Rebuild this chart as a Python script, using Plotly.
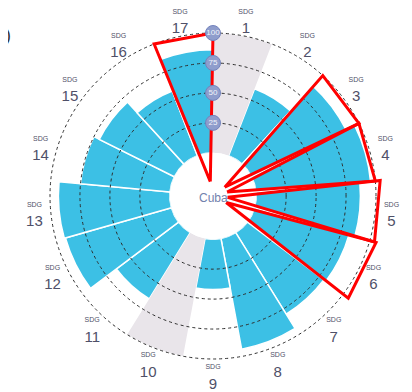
import plotly.graph_objects as go

# ---- data ----
sdg_numbers = list(range(1, 18))
scores = [None, 60, 88, 96, 87, 82, 80, 94, 42, None, 65, 92, 93, 75, 70, 58, 86]
no_data_sdgs = [1, 10]
highlight_sdgs = [17, 3, 4, 5, 6]
highlight_reach = [100, 100, 100, 103, 104]
ring_ticks = [25, 50, 75, 100]
ring_labels = ["25", "50", "75", "100"]
country = "Cuba"

# ---- geometry / style ----
# page body has an 8px margin, so the figure is sized/positioned to compensate
W, H = 404, 384
cx, cy, R = 205, 188, 163
HOLE = 0.265
N = len(sdg_numbers)
step = 360 / N
BLUE = "#3cc0e5"
GRAY = "#e9e5ea"
FONT = "Liberation Sans Narrow, Arial"

def center_theta(k):
    return (k - 0.5) * step

def dom(rad):
    return dict(x=[(cx - rad) / W, (cx + rad) / W],
                y=[1 - (cy + rad) / H, 1 - (cy - rad) / H])

def to_u(v):
    # value on main radial scale -> overlay units (100 = outer ring)
    return 100 * (HOLE + (1 - HOLE) * v / 100)

fig = go.Figure()

# data bars
bt = [center_theta(k) for k, s in zip(sdg_numbers, scores) if s is not None]
br = [s for s in scores if s is not None]
fig.add_trace(go.Barpolar(r=br, theta=bt, width=[step] * len(br),
                          marker=dict(color=BLUE, line=dict(color="white", width=1.5)),
                          subplot="polar", showlegend=False, hoverinfo="skip"))
# no-data sectors
gt = [center_theta(k) for k in no_data_sdgs]
fig.add_trace(go.Barpolar(r=[100] * len(gt), theta=gt, width=[step] * len(gt),
                          marker=dict(color=GRAY, line=dict(color=GRAY, width=0)),
                          subplot="polar", showlegend=False, hoverinfo="skip"))

# red highlight triangles
for k, reach in zip(highlight_sdgs, highlight_reach):
    th = [center_theta(k), (k - 1) * step, k * step, center_theta(k)]
    rr = [9, reach, reach, 9]
    fig.add_trace(go.Scatterpolar(r=rr, theta=th, mode="lines",
                                  line=dict(color="#ff0000", width=3),
                                  subplot="polar2", showlegend=False, hoverinfo="skip",
                                  cliponaxis=False))

# ring badges
fig.add_trace(go.Scatterpolar(r=[to_u(v) for v in ring_ticks], theta=[0] * len(ring_ticks),
                              mode="markers+text", text=ring_labels,
                              textposition="middle center",
                              textfont=dict(size=8, color="#f2f4fa", family=FONT),
                              marker=dict(size=15, color="#8f9dcc", line=dict(color="#7383bd", width=1)),
                              subplot="polar2", showlegend=False, hoverinfo="skip"))

# SDG labels
lab_text = ["<span style='font-size:7px'>SDG</span><br>%d" % k for k in sdg_numbers]
fig.add_trace(go.Scatterpolar(r=[110] * N, theta=[center_theta(k) for k in sdg_numbers],
                              mode="text", text=lab_text, textposition="middle center",
                              textfont=dict(size=15, color="#4f5068", family=FONT),
                              subplot="polar2", showlegend=False, hoverinfo="skip", cliponaxis=False))

hidden_ang = dict(rotation=90, direction="clockwise", showgrid=False, showline=False,
                  showticklabels=False, ticks="")

fig.update_layout(
    width=W, height=H, margin=dict(l=0, r=0, t=0, b=0),
    paper_bgcolor="white", plot_bgcolor="white",
    polar=dict(domain=dom(R), hole=HOLE, bgcolor="white",
               radialaxis=dict(range=[0, 100], showticklabels=False, ticks="",
                               showline=False, showgrid=False),
               angularaxis=hidden_ang),
    polar2=dict(domain=dom(R * 1.1), hole=0, bgcolor="rgba(0,0,0,0)",
                radialaxis=dict(range=[0, 110], tickvals=[to_u(v) for v in ring_ticks],
                                showticklabels=False, ticks="", showline=False,
                                showgrid=True, gridcolor="#2e2e2e", gridwidth=1, griddash="dot"),
                angularaxis=hidden_ang),
    annotations=[
        dict(text=country, x=cx / W, y=1 - (cy + 2) / H, xref="paper", yref="paper",
             showarrow=False, font=dict(size=12, color="#7282ad", family=FONT)),
        dict(text="(%)", x=5 / W, y=1 - 27 / H, xref="paper", yref="paper",
             xanchor="right", yanchor="middle",
             showarrow=False, font=dict(size=18, color="#333333", family=FONT)),
    ],
)

fig.write_html("out.html")
